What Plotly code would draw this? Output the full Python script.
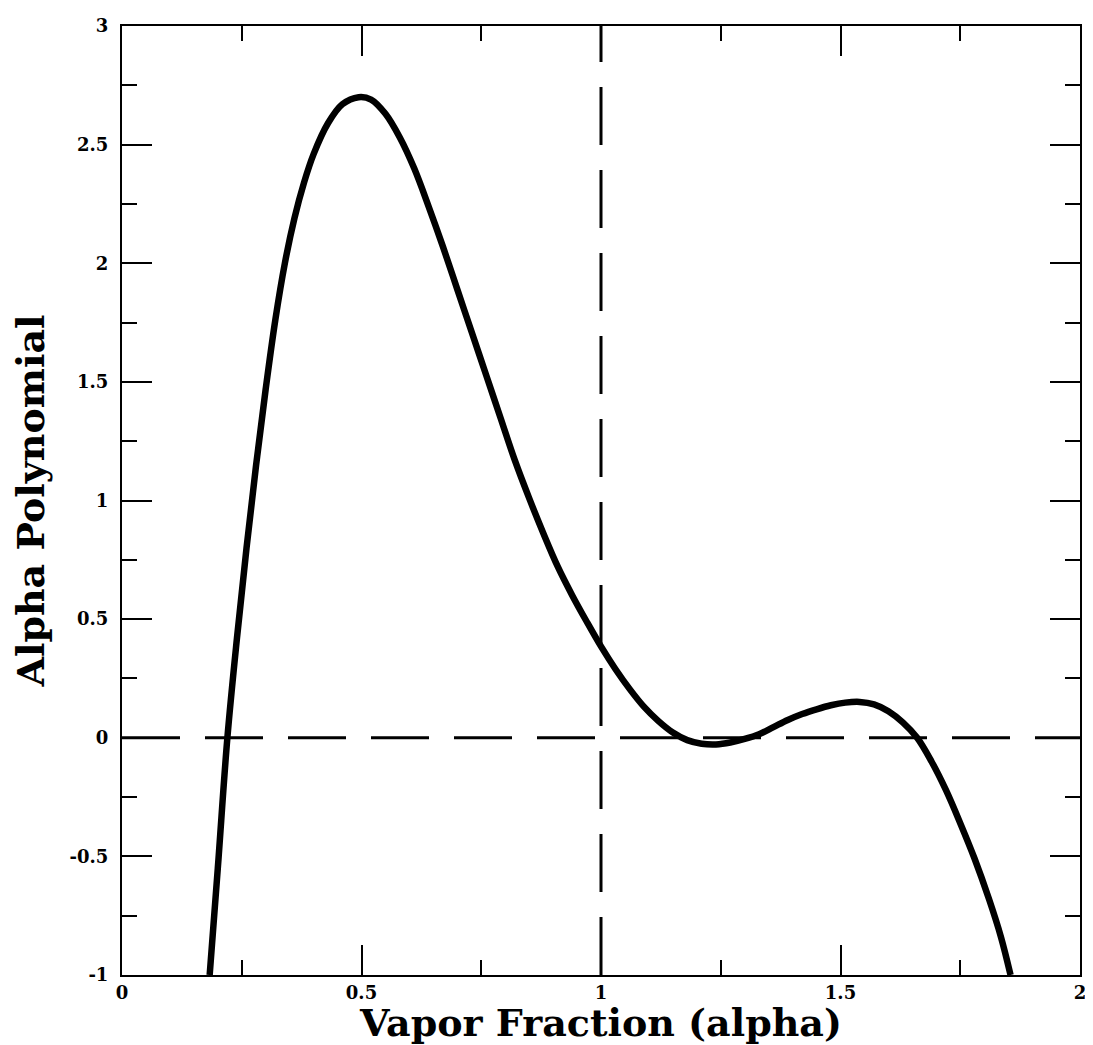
import plotly.graph_objects as go

# Curve samples
alpha = [0.183, 0.200, 0.220, 0.240, 0.260, 0.280, 0.300, 0.320, 0.340, 0.360,
         0.380, 0.400, 0.430, 0.460, 0.494, 0.520, 0.550, 0.580, 0.610, 0.640,
         0.670, 0.700, 0.730, 0.760, 0.790, 0.820, 0.850, 0.880, 0.910, 0.940,
         0.970, 1.000, 1.030, 1.060, 1.090, 1.120, 1.150, 1.180, 1.210, 1.240,
         1.270, 1.300, 1.330, 1.360, 1.390, 1.420, 1.450, 1.480, 1.510, 1.540,
         1.570, 1.600, 1.630, 1.660, 1.690, 1.720, 1.750, 1.780, 1.810, 1.835,
         1.855]
poly = [-1.00, -0.55, 0.00, 0.42, 0.80, 1.15, 1.47, 1.76, 2.00, 2.19,
        2.34, 2.46, 2.59, 2.67, 2.70, 2.69, 2.63, 2.53, 2.40, 2.24,
        2.07, 1.89, 1.71, 1.53, 1.35, 1.17, 1.01, 0.86, 0.72, 0.60,
        0.49, 0.385, 0.29, 0.205, 0.13, 0.07, 0.022, -0.01, -0.025, -0.028,
        -0.02, -0.005, 0.015, 0.045, 0.075, 0.10, 0.12, 0.137, 0.148, 0.151,
        0.141, 0.112, 0.065, 0.0, -0.10, -0.22, -0.36, -0.51, -0.68, -0.84,
        -1.00]

# Reference dashed lines
hline_x = [0, 2]
hline_y = [0, 0]
vline_x = [1, 1]
vline_y = [-1, 3]

x_ticks = [0, 0.5, 1, 1.5, 2]
x_ticklabels = ["0", "0.5", "1", "1.5", "2"]
y_ticks = [-1, -0.5, 0, 0.5, 1, 1.5, 2, 2.5, 3]
y_ticklabels = ["-1", "-0.5", "0", "0.5", "1", "1.5", "2", "2.5", "3"]

FONT = "DejaVu Serif"

fig = go.Figure()
fig.add_trace(go.Scatter(x=hline_x, y=hline_y, mode="lines",
                         line=dict(color="black", width=3, dash="58px,25px"),
                         hoverinfo="skip", showlegend=False))
fig.add_trace(go.Scatter(x=vline_x, y=vline_y, mode="lines",
                         line=dict(color="black", width=3, dash="58px,25px"),
                         hoverinfo="skip", showlegend=False))
fig.add_trace(go.Scatter(x=alpha, y=poly, mode="lines",
                         line=dict(color="black", width=6.5, shape="spline", smoothing=1.0),
                         showlegend=False))

axis_common = dict(
    showgrid=False, zeroline=False, showline=True, linecolor="black", linewidth=2,
    mirror="allticks", ticks="inside", ticklen=30, tickwidth=1.5, tickcolor="black",
    tickfont=dict(family=FONT, size=18, color="black", weight="bold"),
)

fig.update_layout(
    width=1085, height=1037,
    margin=dict(l=114, r=7, t=13, b=70),
    paper_bgcolor="white", plot_bgcolor="white",
    xaxis=dict(range=[0, 2], tickvals=x_ticks, ticktext=x_ticklabels,
               minor=dict(dtick=0.25, ticks="inside", ticklen=15, tickwidth=1.5, tickcolor="black"),
               title=dict(text="Vapor Fraction (alpha)", standoff=4,
                          font=dict(family=FONT, size=38, color="black", weight="bold")),
               **axis_common),
    yaxis=dict(range=[-1, 3], tickvals=y_ticks, ticktext=y_ticklabels,
               ticklabelstandoff=8,
               minor=dict(dtick=0.25, ticks="inside", ticklen=15, tickwidth=1.5, tickcolor="black"),
               title=dict(text="Alpha Polynomial", standoff=16,
                          font=dict(family=FONT, size=38, color="black", weight="bold")),
               **axis_common),
)

fig.write_html("out.html")
